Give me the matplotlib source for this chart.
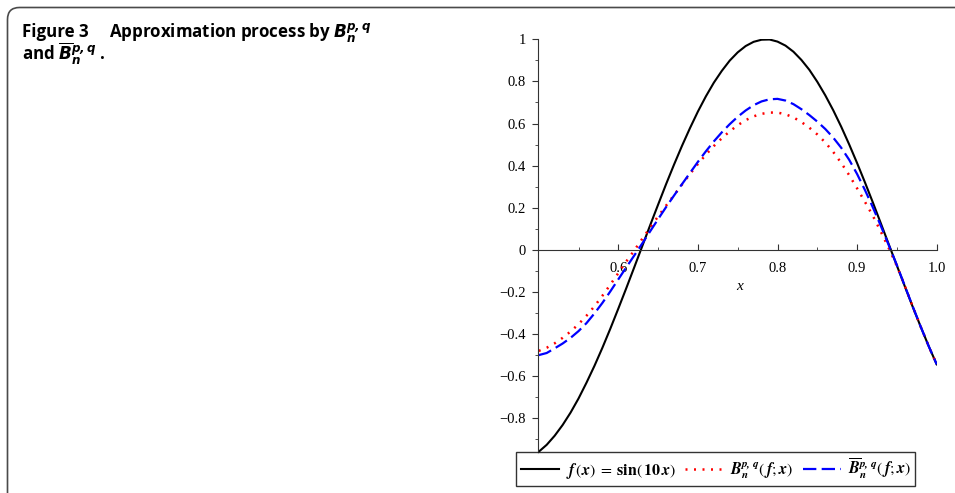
import matplotlib
matplotlib.use("Agg")
import matplotlib.pyplot as plt
from matplotlib.patches import FancyBboxPatch
from matplotlib.ticker import FixedLocator

# values (step 0.01 in x)
x_vals = [0.50, 0.51, 0.52, 0.53, 0.54, 0.55, 0.56, 0.57, 0.58, 0.59,
          0.60, 0.61, 0.62, 0.63, 0.64, 0.65, 0.66, 0.67, 0.68, 0.69,
          0.70, 0.71, 0.72, 0.73, 0.74, 0.75, 0.76, 0.77, 0.78, 0.79,
          0.80, 0.81, 0.82, 0.83, 0.84, 0.85, 0.86, 0.87, 0.88, 0.89,
          0.90, 0.91, 0.92, 0.93, 0.94, 0.95, 0.96, 0.97, 0.98, 0.99, 1.00]
f_vals = [-0.959, -0.926, -0.883, -0.832, -0.773, -0.706, -0.631, -0.551, -0.465, -0.374,
          -0.279, -0.182, -0.083, 0.017, 0.117, 0.215, 0.312, 0.405, 0.494, 0.578,
          0.657, 0.729, 0.794, 0.850, 0.899, 0.938, 0.968, 0.988, 0.998, 0.999,
          0.989, 0.970, 0.941, 0.902, 0.855, 0.798, 0.734, 0.663, 0.585, 0.501,
          0.412, 0.319, 0.223, 0.124, 0.024, -0.075, -0.174, -0.272, -0.366, -0.458, -0.544]
bpq_vals = [-0.48, -0.465, -0.444, -0.418, -0.388, -0.353, -0.313, -0.268, -0.218, -0.165,
            -0.11, -0.055, -0.003, 0.052, 0.106, 0.159, 0.21, 0.26, 0.31, 0.36,
            0.408, 0.452, 0.493, 0.53, 0.563, 0.592, 0.616, 0.634, 0.646, 0.652,
            0.652, 0.644, 0.629, 0.607, 0.58, 0.548, 0.51, 0.465, 0.413, 0.355,
            0.292, 0.227, 0.16, 0.085, 0.006, -0.077, -0.172, -0.27, -0.366, -0.458, -0.544]
bbar_vals = [-0.50, -0.49, -0.468, -0.445, -0.418, -0.386, -0.348, -0.302, -0.252, -0.197,
             -0.14, -0.083, -0.027, 0.03, 0.088, 0.146, 0.203, 0.258, 0.312, 0.365,
             0.418, 0.468, 0.515, 0.558, 0.597, 0.632, 0.662, 0.687, 0.705, 0.715,
             0.717, 0.709, 0.692, 0.668, 0.64, 0.609, 0.574, 0.533, 0.485, 0.428,
             0.36, 0.283, 0.20, 0.112, 0.02, -0.073, -0.172, -0.27, -0.366, -0.458, -0.544]

x_ticks = [0.6, 0.7, 0.8, 0.9, 1.0]
x_ticklabels = ["0.6", "0.7", "0.8", "0.9", "1.0"]
y_ticks = [1, 0.8, 0.6, 0.4, 0.2, 0, -0.2, -0.4, -0.6, -0.8]
y_ticklabels = ["1", "0.8", "0.6", "0.4", "0.2", "0", "\u22120.2", "\u22120.4", "\u22120.6", "\u22120.8"]

labels = [
    r"$\mathbfit{f}\,(\mathbfit{x})\;=\;\mathbf{sin}(\,\mathbf{10}\,\mathbfit{x})$",
    r"$\mathbfit{B}_{\mathbfit{n}}^{\mathbfit{p,\,q}}(\,\mathbfit{f};\mathbfit{x})$",
    r"$\overline{\mathbfit{B}}_{\mathbfit{n}}^{\mathbfit{p,\,q}}(\,\mathbfit{f};\mathbfit{x})$",
]

plt.rcParams["font.family"] = ["Liberation Serif", "DejaVu Serif"]
plt.rcParams["mathtext.fontset"] = "stix"

fig = plt.figure(figsize=(9.55, 4.93), dpi=100)

# rounded panel frame around the figure
panel = FancyBboxPatch((0.075, -0.5), 10.0, 4.855 + 0.5,
                       boxstyle="round,pad=0,rounding_size=0.12",
                       transform=fig.dpi_scale_trans, facecolor="none",
                       edgecolor="#4a4a4a", linewidth=1.2)
fig.add_artist(panel)

# caption
cap_font = dict(fontsize=12.2, fontweight="bold", family=["Open Sans", "DejaVu Sans"],
                math_fontfamily="dejavusans", va="baseline", ha="left")
fig.text(22 / 955, 1 - 37 / 493, "Figure 3", **cap_font)
fig.text(109 / 955, 1 - 37 / 493,
         r"Approximation process by $\mathbfit{B}_{\mathbfit{n}}^{\mathbfit{p,q}}$", **cap_font)
fig.text(22 / 955, 1 - 60 / 493,
         r"and $\overline{\mathbfit{B}}_{\mathbfit{n}}^{\mathbfit{p,q}}$ .", **cap_font)

ax = fig.add_axes([537.7 / 955, 0.0811, (936.7 - 537.7) / 955, 0.8392])
ax.plot(x_vals, f_vals, color="black", lw=1.5, label=labels[0])
ax.plot(x_vals, bpq_vals, color="#ff0000", lw=1.8, linestyle=(0, (0.8, 2.6)), label=labels[1])
ax.plot(x_vals, bbar_vals, color="#0000ff", lw=1.6, linestyle=(0, (6.0, 2.4)), label=labels[2])

ax.set_xlim(0.4987, 1.0)
ax.set_ylim(-0.965, 1.0)

for side in ("top", "right"):
    ax.spines[side].set_visible(False)
ax.spines["bottom"].set_position(("data", 0))
ax.spines["bottom"].set_color("#333333")
ax.spines["left"].set_color("#333333")

ax.xaxis.set_major_locator(FixedLocator(x_ticks))
ax.set_xticklabels(x_ticklabels)
ax.xaxis.set_minor_locator(FixedLocator([0.55, 0.65, 0.75, 0.85, 0.95]))
ax.yaxis.set_major_locator(FixedLocator(y_ticks))
ax.set_yticklabels(y_ticklabels)
ax.yaxis.set_minor_locator(FixedLocator([0.9, 0.7, 0.5, 0.3, 0.1, -0.1, -0.3, -0.5, -0.7, -0.9]))

ax.tick_params(axis="x", which="major", direction="in", length=4, pad=9, labelsize=10.5, color="#333333")
ax.tick_params(axis="x", which="minor", direction="in", length=2.5, color="#333333")
ax.tick_params(axis="y", which="major", direction="out", length=4.5, pad=4, labelsize=10.5, color="#333333")
ax.tick_params(axis="y", which="minor", direction="out", length=2, color="#333333")

ax.text(0.7525, -0.176, "x", fontsize=11, style="italic", ha="center", va="center")

leg = fig.legend(loc="center", bbox_to_anchor=(715.5 / 955, 1 - 469 / 493), ncol=3,
                 frameon=True, fancybox=False, edgecolor="black", fontsize=11.5,
                 handlelength=2.4, handletextpad=0.42, columnspacing=0.6,
                 borderpad=0.3, borderaxespad=0)
leg.get_frame().set_linewidth(1.0)

fig.savefig("out.png", dpi=100)
